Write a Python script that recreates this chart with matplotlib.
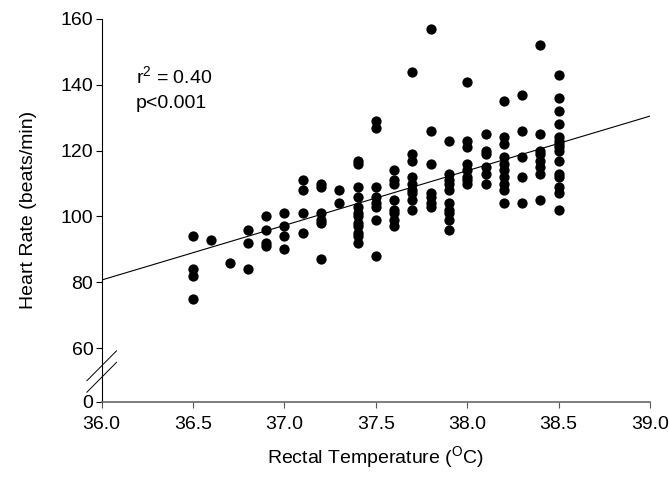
"""Heart rate vs rectal temperature scatter with regression line."""
import matplotlib
matplotlib.use("Agg")
import matplotlib.pyplot as plt
import numpy as np

plt.rcParams["font.family"] = ["Liberation Sans", "DejaVu Sans"]
plt.rcParams["mathtext.fontset"] = "custom"
plt.rcParams["mathtext.rm"] = "Liberation Sans"
plt.rcParams["mathtext.it"] = "Liberation Sans"

# temperature columns (deg C) and the heart rates read at each one
temps = [36.5, 36.6, 36.7, 36.8, 36.9, 37.0, 37.1, 37.2, 37.3, 37.4, 37.5,
         37.6, 37.7, 37.8, 37.9, 38.0, 38.1, 38.2, 38.3, 38.4, 38.5]
hr_by_temp = [
    [94, 84, 82, 75],
    [93],
    [86],
    [96, 92, 84],
    [100, 96, 92, 91],
    [101, 97, 94, 90],
    [111, 108, 101, 95],
    [110, 109, 101, 99, 98, 87],
    [108, 104],
    [117, 116, 109, 106, 103, 101, 100, 98, 97, 95, 94, 92],
    [129, 127, 109, 106, 104, 103, 99, 88],
    [114, 111, 110, 105, 102, 101, 99, 97],
    [144, 119, 117, 112, 110, 108, 107, 105, 102],
    [157, 126, 116, 107, 106, 104, 103],
    [123, 113, 111, 110, 108, 104, 102, 101, 99, 96],
    [141, 123, 121, 116, 114, 112, 111, 110],
    [125, 120, 119, 115, 113, 110],
    [135, 124, 122, 118, 116, 114, 112, 110, 108, 104],
    [137, 126, 118, 112, 104],
    [152, 125, 120, 119, 117, 115, 113, 105],
    [143, 136, 132, 128, 124, 123, 122, 121, 120, 117, 113, 112, 109, 107, 102],
]

# regression line end points
fit_x = [36.0, 39.0]
fit_y = [80.7, 130.5]

x_ticks = [36.0, 36.5, 37.0, 37.5, 38.0, 38.5, 39.0]
y_ticks = [0, 60, 80, 100, 120, 140, 160]

# broken y axis: 0-60 squeezed
BREAK = 60.0
K = 16.3 / 60.0


def fwd(y):
    y = np.asarray(y, dtype=float)
    return np.where(y >= BREAK, y, BREAK - (BREAK - y) * K)


def inv(y):
    y = np.asarray(y, dtype=float)
    return np.where(y >= BREAK, y, BREAK - (BREAK - y) / K)


x = np.concatenate([[t] * len(h) for t, h in zip(temps, hr_by_temp)])
y = np.concatenate(hr_by_temp)

FS = 14

fig = plt.figure(figsize=(6.69, 4.93), dpi=100)
ax = fig.add_axes([0.152, 0.185, 0.8196, 0.7765])
ax.set_yscale("function", functions=(fwd, inv))

ax.plot(x, y, "o", color="black", markersize=7.4, markeredgewidth=0)
ax.plot(fit_x, fit_y, color="black", lw=0.8)

ax.set_xlim(36.0, 39.0)
ax.set_ylim(0, 160)
ax.set_xticks(x_ticks)
ax.set_xticklabels([f"{v:.1f}" for v in x_ticks])
ax.set_yticks(y_ticks)
ax.set_yticklabels([str(v) for v in y_ticks])
ax.minorticks_off()
ax.tick_params(labelsize=FS, length=4.5, width=0.8, direction="out")
ax.tick_params(axis="y", pad=1.5)
ax.tick_params(axis="x", pad=5.5, colors="#555555", labelcolor="black")

for s in ("top", "right"):
    ax.spines[s].set_visible(False)
ax.spines["left"].set_linewidth(0.8)
ax.spines["bottom"].set_linewidth(1.2)
ax.spines["bottom"].set_color("#666666")

# axis break marks
for yc in (0.094, 0.064):
    ax.plot([-0.027, 0.027], [yc - 0.039, yc + 0.039], transform=ax.transAxes,
            color="black", lw=0.7, clip_on=False)

ax.set_xlabel("Rectal Temperature ($^{\\mathrm{O}}$C)", fontsize=FS, labelpad=8)
ax.set_ylabel("Heart Rate (beats/min)", fontsize=FS, labelpad=17)

ax.text(0.0626, 0.832, "r$^{2}$ = 0.40", transform=ax.transAxes,
        fontsize=FS, va="baseline")
ax.text(0.0626, 0.767, "p<0.001", transform=ax.transAxes, fontsize=FS,
        va="baseline")

fig.savefig("out.png", dpi=100)
